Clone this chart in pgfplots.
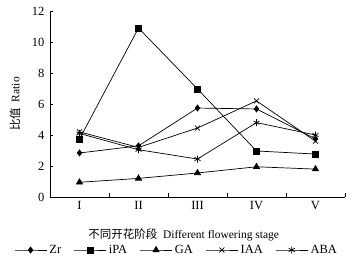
\documentclass[border=0pt]{standalone}
\usepackage{pgfplots}
\pgfplotsset{compat=1.18}
\usepackage{fontspec}
\setmainfont{Liberation Serif}
\newfontfamily\cjk{Noto Sans CJK SC}
\begin{document}
\begin{tikzpicture}
\begin{axis}[
  scale only axis,
  width=295pt, height=186pt,
  xmin=0.5, xmax=5.5, ymin=0, ymax=12,
  axis lines=left,
  axis line style={-, line width=0.6pt},
  xtick={1,2,3,4,5},
  xticklabels={I,II,III,IV,V},
  minor xtick={1.5,2.5,3.5,4.5,5.5},
  major x tick style={draw=none},
  minor tick length=4pt,
  ytick={0,2,4,6,8,10,12},
  major tick length=3pt,
  tick align=inside,
  tick style={line width=0.5pt, black},
  /pgf/number format/assume math mode=true,
  ticklabel style={font=\fontsize{12.5}{14}\selectfont},
  yticklabel style={xshift=-2pt},
  xticklabel style={yshift=-1pt},
  xlabel={{\cjk 不同开花阶段}\ \ Different flowering stage},
  ylabel={{\cjk 比值}\ \ Ratio},
  label style={font=\fontsize{11.5}{13}\selectfont},
  xlabel style={at={(axis description cs:0.453,0)}, anchor=center, yshift=-38pt},
  ylabel style={at={(axis description cs:-0.119,0.5)}, anchor=center, rotate=0},
  legend style={at={(axis description cs:0.43,0)}, anchor=center, yshift=-53pt, draw=none, legend columns=5,
    font=\fontsize{12.5}{14}\selectfont, inner sep=0pt,
    nodes={inner sep=2.5pt},
    /tikz/every even column/.append style={column sep=10pt}},
  legend image code/.code={\draw[mark repeat=2,mark phase=2] plot coordinates {(0pt,0pt) (16pt,0pt) (32pt,0pt)};},
  every axis plot/.append style={black, line width=0.7pt},
]
\addplot[mark=diamond*, mark size=3pt] coordinates {(1,2.84) (2,3.3) (3,5.74) (4,5.68) (5,3.75)};
\addlegendentry{Zr}
\addplot[mark=square*, mark size=3pt] coordinates {(1,3.74) (2,10.9) (3,6.97) (4,2.97) (5,2.77)};
\addlegendentry{iPA}
\addplot[mark=triangle*, mark size=3.5pt] coordinates {(1,0.95) (2,1.2) (3,1.55) (4,1.95) (5,1.8)};
\addlegendentry{GA}
\addplot[mark=x, mark size=3.5pt] coordinates {(1,4.2) (2,3.2) (3,4.45) (4,6.2) (5,3.6)};
\addlegendentry{IAA}
\addplot[mark=asterisk, mark size=3.5pt] coordinates {(1,4.1) (2,3.05) (3,2.45) (4,4.8) (5,4.0)};
\addlegendentry{ABA}
\end{axis}
\pgfresetboundingbox
\path ([xshift=-50pt,yshift=-66pt]current axis.south west) rectangle ([xshift=305pt,yshift=197pt]current axis.south west);
\end{tikzpicture}
\end{document}
